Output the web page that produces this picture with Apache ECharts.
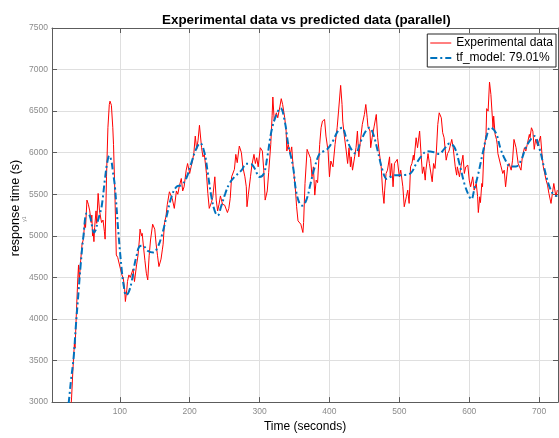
<!DOCTYPE html>
<html>
<head>
<meta charset="utf-8">
<title>Experimental data vs predicted data</title>
<script src="https://cdn.jsdelivr.net/npm/echarts@6/dist/echarts.min.js"></script>
<style>
  html, body { margin: 0; padding: 0; background: #fff; }
</style>
</head>
<body>
<div id="myChart" style="width:559px;height:438px;"></div>
<script>
// measured data (time in seconds)
var expTime = [28, 31, 33, 35, 36, 38, 40, 41, 42, 44, 46, 48, 50, 51, 53, 55, 57, 59, 60, 61, 62, 63, 64, 66, 67, 69, 71, 73, 74, 76, 78, 79, 80, 81, 83, 85, 86, 88, 90, 91, 93, 95, 97, 99,
  101, 103, 105, 107, 108, 110, 111, 113, 115, 117, 119, 121, 122, 124, 126, 128, 129, 131, 132, 134, 136, 138, 140, 142, 144, 147, 149, 150, 152, 154, 156, 159, 161, 162, 164, 166, 168, 169, 171, 173, 175, 176, 178, 181, 183, 185, 188, 190, 192, 195, 197,
  200, 202, 204, 206, 208, 210, 212, 214, 217, 219, 221, 224, 226, 228, 231, 233, 236, 238, 240, 242, 244, 247, 250, 252, 254, 256, 258, 260, 262, 264, 266, 268, 269, 271, 274, 276, 279, 281, 282, 284, 287, 289, 292, 294, 296, 298,
  301, 304, 306, 308, 311, 313, 316, 318, 319, 321, 324, 326, 329, 331, 333, 336, 338, 339, 341, 344, 346, 348, 351, 353, 355, 357, 359, 362, 363, 365, 368, 370, 373, 375, 377, 379, 381, 383, 386, 388, 390, 393, 395, 398,
  400, 402, 405, 406, 408, 411, 413, 416, 418, 419, 421, 424, 426, 428, 430, 431, 433, 436, 438, 440, 442, 444, 447, 450, 452, 454, 455, 458, 459, 461, 464, 467, 469, 471, 474, 476, 478, 479, 481, 483, 486, 487, 489, 491, 493, 495, 497,
  500, 502, 505, 507, 510, 512, 514, 516, 518, 520, 521, 524, 526, 529, 530, 531, 533, 535, 537, 538, 541, 543, 547, 549, 551, 553, 555, 557, 560, 562, 564, 567, 569, 571, 575, 577, 580, 582, 583, 586, 588, 591, 593, 595, 598,
  600, 602, 605, 607, 610, 612, 613, 615, 616, 618, 619, 621, 624, 625, 627, 629, 630, 631, 634, 635, 637, 639, 640, 641, 645, 648, 650, 652, 655, 657, 660, 662, 664, 667, 670, 672, 674, 676, 679, 681, 683, 686, 687, 689, 691, 693, 695, 698,
  700, 702, 704, 706, 710, 712, 714, 717, 719, 721, 724, 726];
var expValue = [2700, 3050, 3400, 3700, 3650, 4100, 4500, 4650, 4450, 4700, 4900, 4960, 5200, 5100, 5430, 5380, 5300, 5160, 5250, 5000, 5040, 4930, 5100, 5300, 5150, 5510, 5300, 5200, 5160, 5190, 5050, 4960, 5300, 5710, 6300, 6580, 6620, 6570, 6300, 6100, 5510, 4770, 4740, 4760,
  4600, 4530, 4490, 4350, 4210, 4350, 4450, 4530, 4500, 4510, 4600, 4450, 4430, 4650, 4760, 4950, 5080, 5000, 5030, 4860, 4700, 4550, 4470, 4760, 4950, 5140, 5120, 5080, 4900, 4760, 4630, 4720, 4840, 4900, 5160, 5230, 5380, 5430, 5530, 5540, 5450, 5430, 5330, 5540, 5500, 5590, 5690, 5540, 5590, 5790, 5870,
  5750, 5830, 5900, 6000, 6200, 6040, 6150, 6330, 6060, 5950, 5980, 5750, 5510, 5330, 5400, 5460, 5710, 5430, 5300, 5380, 5480, 5380, 5370, 5350, 5280, 5330, 5450, 5710, 5690, 5800, 5980, 5880, 5870, 6080, 6000, 5830, 5710, 5590, 5350, 5500, 5710, 5850, 5980, 5870, 5940, 5830,
  6060, 6020, 5790, 5430, 5540, 5760, 6100, 6450, 6670, 6380, 6480, 6420, 6550, 6650, 6580, 6420, 6260, 6020, 6100, 5980, 6070, 5830, 5590, 5350, 5180, 5160, 5140, 5040, 5160, 5630, 6040, 6060, 5930, 5710, 5830, 5490, 5670, 5640, 6100, 6300, 6380, 6400, 6200, 6020,
  5710, 5900, 5830, 5850, 6100, 6300, 6500, 6810, 6580, 6380, 6220, 6020, 5870, 6060, 5830, 5950, 5790, 5950, 6060, 6260, 5950, 6120, 6340, 6460, 6580, 6420, 6320, 6260, 6060, 6180, 6320, 6460, 6180, 6020, 5830, 5550, 5390, 5550, 5750, 5790, 5950, 5710, 5870, 5590, 5870, 5870, 5920,
  5710, 5790, 5590, 5350, 5470, 5550, 5390, 5830, 5870, 5970, 5910, 6180, 6060, 6260, 6260, 5990, 5750, 5830, 5670, 5790, 5990, 5870, 5650, 5870, 5810, 6020, 6340, 6480, 6420, 6240, 6180, 5910, 5990, 6020, 6160, 6060, 5830, 5730, 5830, 5710, 5830, 5970, 5750, 5830, 5850,
  5670, 5590, 5710, 5550, 5630, 5470, 5280, 5470, 5400, 5630, 5590, 6020, 6220, 6530, 6500, 6850, 6850, 6700, 6300, 6440, 6220, 6160, 6100, 5990, 5850, 5750, 5790, 5590, 5830, 5870, 5790, 5910, 6160, 6060, 5870, 5830, 5790, 5950, 6060, 6020, 6100, 6220, 6180, 6300, 6260, 6040, 6160, 6080,
  6060, 6200, 5990, 5830, 5670, 5610, 5510, 5390, 5510, 5630, 5470, 5550];

// simulated output of tf_model
var modelTime = [24, 27, 30, 34, 37, 41, 44, 48, 53, 57, 60, 63, 66, 68, 71, 74, 79, 82, 85, 88, 90, 93, 98,
  103, 106, 109, 113, 117, 121, 124, 128, 133, 140, 148, 154, 160, 167, 174, 181, 188, 195,
  202, 209, 215, 221, 226, 231, 236, 240, 245, 251, 257, 264, 274, 281, 287, 293,
  300, 306, 311, 317, 324, 330, 336, 341, 348, 352, 357, 361, 367, 373, 379, 386, 392, 397,
  405, 412, 418, 424, 431, 437, 445, 452, 457, 462, 469, 476, 482, 487, 494,
  500, 510, 517, 524, 531, 540, 550, 557, 564, 572, 579, 586, 593, 599,
  603, 607, 613, 619, 625, 630, 638, 645, 652, 659, 667, 674, 681, 688, 693,
  700, 707, 714, 721, 726];
var modelValue = [2800, 3000, 3250, 3540, 3900, 4330, 4650, 5000, 5275, 5240, 5130, 5040, 5080, 5160, 5250, 5350, 5700, 5880, 5965, 5900, 5780, 5590, 5040,
  4570, 4380, 4285, 4330, 4450, 4650, 4760, 4870, 4880, 4820, 4800, 4860, 5000, 5236, 5470, 5590, 5610, 5690,
  5866, 6040, 6115, 6004, 5750, 5472, 5295, 5244, 5354, 5511, 5630, 5708, 5787, 5866, 5866, 5810,
  5708, 5748, 5945, 6260, 6456, 6535, 6378, 6102, 5826, 5551, 5393, 5362, 5433, 5630, 5830, 5990, 6020, 6043,
  6142, 6260, 6300, 6180, 6043, 5992, 6142, 6260, 6300, 6240, 6024, 5787, 5685, 5708, 5730,
  5730, 5735, 5760, 5866, 5953, 6016, 6004, 5985, 6043, 6110, 6063, 5866, 5630, 5492,
  5440, 5550, 5750, 5984, 6201, 6305, 6240, 6043, 5906, 5835, 5835, 5906, 6063, 6161, 6201,
  6063, 5826, 5610, 5492, 5480];

var yTicks = { min: 3000, max: 7500, step: 500 };
var xRange = { min: 3, max: 727 };

function pairs (xs, ys) {
  var out = []
  for (var i = 0; i < xs.length; i++) out.push([xs[i], ys[i]])
  return out
}

var font = 'Liberation Sans, Arial, Helvetica, sans-serif'
var axisColor = '#5c5c5c'
var labelColor = '#8a8a8a'

var myChart = echarts.init(document.getElementById('myChart'))
myChart.setOption({
  animation: false,
  textStyle: { fontFamily: font },
  title: {
    text: 'Experimental data vs predicted data (parallel)',
    left: 157,
    top: 9,
    textStyle: { fontSize: 13.4, fontWeight: 'bold', color: '#000', fontFamily: font }
  },
  grid: { left: 52, right: 1, top: 28, bottom: 29, containLabel: false },
  legend: {
    orient: 'vertical',
    right: 3,
    top: 34,
    padding: [3, 3, 3, 2],
    itemGap: 3,
    itemWidth: 21,
    itemHeight: 14,
    borderColor: '#262626',
    borderWidth: 1,
    borderRadius: 0,
    backgroundColor: '#fff',
    itemStyle: { opacity: 0 },
    lineStyle: { width: 'inherit' },
    textStyle: { fontSize: 12, color: '#000', fontFamily: font },
    data: ['Experimental data', 'tf_model: 79.01%']
  },
  xAxis: [
    {
      type: 'value',
      min: xRange.min,
      max: xRange.max,
      splitNumber: 7,
      name: 'Time (seconds)',
      nameLocation: 'middle',
      nameGap: 15,
      nameTextStyle: { fontSize: 12, color: '#000', fontFamily: font },
      axisLine: { lineStyle: { color: axisColor, width: 1 } },
      axisTick: { inside: true, length: 5, lineStyle: { color: axisColor } },
      axisLabel: { fontSize: 8.5, color: labelColor, margin: 5, showMinLabel: false, showMaxLabel: false },
      splitLine: { show: true, lineStyle: { color: '#dfdfdf', width: 1 } }
    },
    {
      type: 'value',
      position: 'top',
      min: xRange.min,
      max: xRange.max,
      splitNumber: 7,
      axisLine: { show: true, lineStyle: { color: axisColor, width: 1 } },
      axisTick: { inside: true, length: 5, lineStyle: { color: axisColor } },
      axisLabel: { show: false },
      splitLine: { show: false }
    }
  ],
  yAxis: [
    {
      type: 'value',
      min: yTicks.min,
      max: yTicks.max,
      interval: yTicks.step,
      axisLine: { show: true, lineStyle: { color: axisColor, width: 1 } },
      axisTick: { show: true, inside: true, length: 5, lineStyle: { color: axisColor } },
      axisLabel: {
        fontSize: 8.5,
        color: labelColor,
        margin: 4,
        formatter: function (v) { return String(v) }
      },
      splitLine: { show: true, lineStyle: { color: '#dfdfdf', width: 1 } }
    },
    {
      type: 'value',
      position: 'right',
      min: yTicks.min,
      max: yTicks.max,
      interval: yTicks.step,
      axisLine: { show: true, lineStyle: { color: axisColor, width: 1 } },
      axisTick: { show: true, inside: true, length: 5, lineStyle: { color: axisColor } },
      axisLabel: { show: false },
      splitLine: { show: false }
    }
  ],
  graphic: [
    {
      type: 'text',
      x: 9,
      y: 208,
      rotation: Math.PI / 2,
      style: {
        text: 'response time (s)',
        font: '12.5px ' + font,
        fill: '#000',
        align: 'center',
        verticalAlign: 'top'
      }
    },
    {
      type: 'text',
      x: 22,
      y: 219,
      rotation: Math.PI / 2,
      style: {
        text: 'y1',
        font: '5px ' + font,
        fill: '#8a8a8a',
        align: 'center',
        verticalAlign: 'top'
      }
    }
  ],
  series: [
    {
      name: 'Experimental data',
      type: 'line',
      data: pairs(expTime, expValue),
      showSymbol: false,
      symbol: 'none',
      clip: true,
      lineStyle: { color: '#ff0000', width: 1 },
      itemStyle: { color: '#ff0000' },
      z: 2
    },
    {
      name: 'tf_model: 79.01%',
      type: 'line',
      data: pairs(modelTime, modelValue),
      showSymbol: false,
      symbol: 'none',
      smooth: 0.4,
      clip: true,
      lineStyle: { color: '#0072bd', width: 2, type: [7, 3, 2, 3] },
      itemStyle: { color: '#0072bd' },
      z: 3
    }
  ]
})
</script>
</body>
</html>
